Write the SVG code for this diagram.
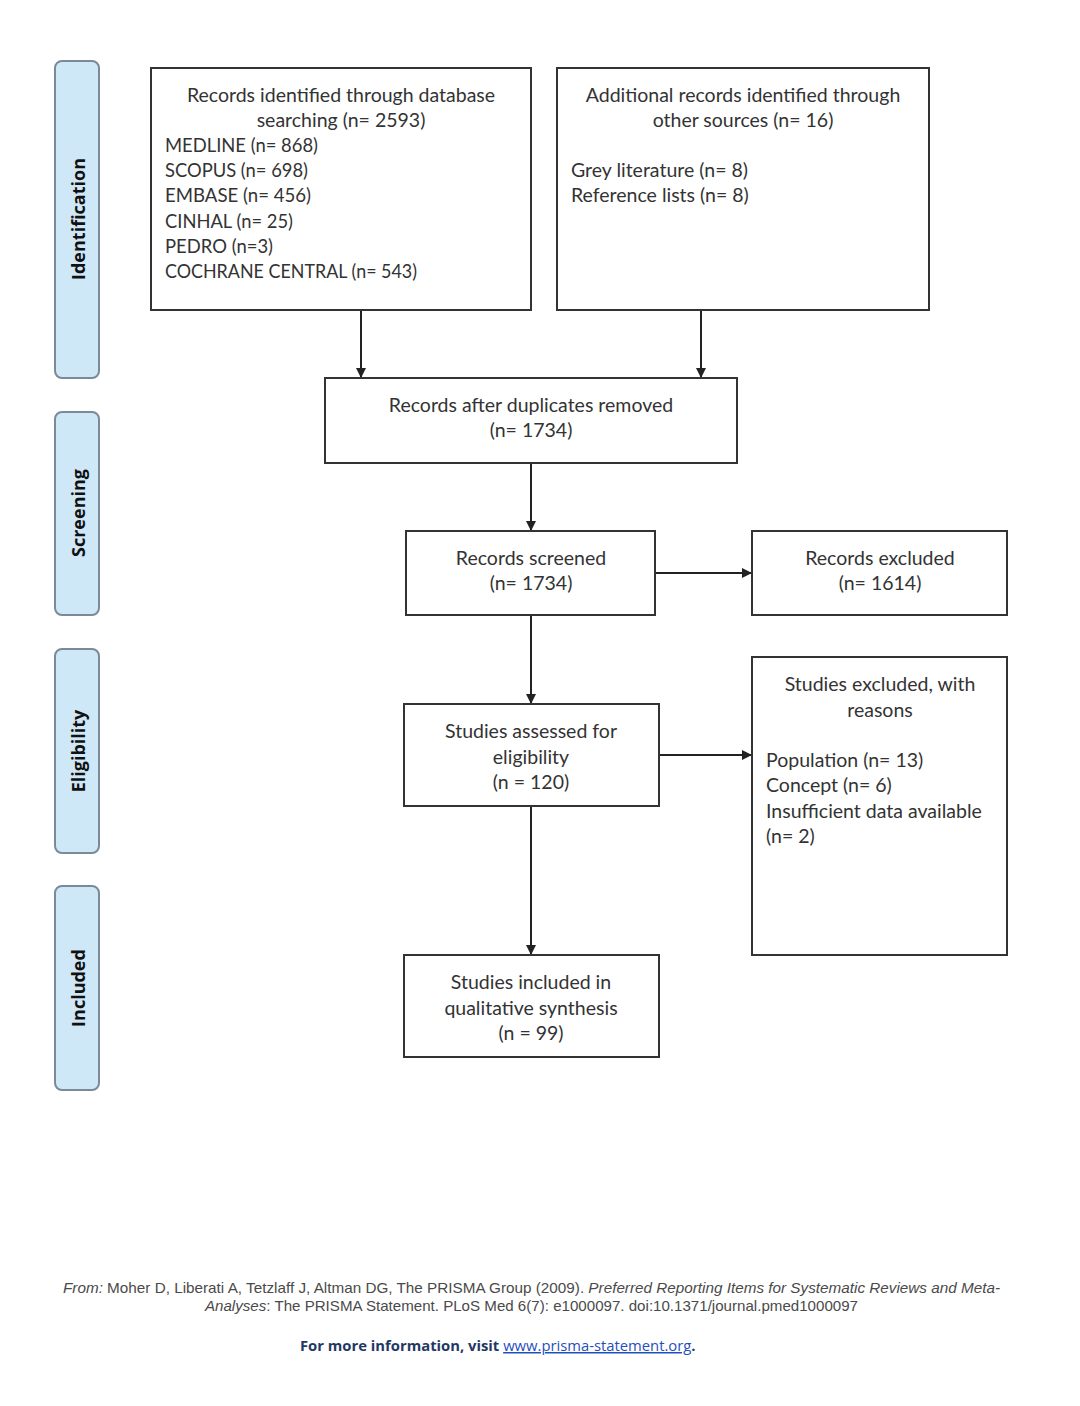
<svg xmlns="http://www.w3.org/2000/svg" width="1080" height="1406" viewBox="0 0 1080 1406">
<style>
.box{fill:#fff;stroke:#333;stroke-width:2}
.side{fill:#cfe8f8;stroke:#7b8a96;stroke-width:2}
.t{font-family:Lato,"Open Sans",sans-serif;font-size:19.5px;fill:#333}
.c{text-anchor:middle}
.sl{font-family:"Open Sans",Lato,sans-serif;font-size:18px;font-weight:bold;fill:#111;text-anchor:middle}
.ln{stroke:#222;stroke-width:2;fill:none}
.f{font-family:"Liberation Sans",Arial,sans-serif;font-size:15px;fill:#4a4a4a}
</style>
<defs>
<marker id="ah" markerWidth="10" markerHeight="10" refX="9" refY="5" orient="auto" markerUnits="userSpaceOnUse">
<path d="M0,0 L10,5 L0,10 z" fill="#222"/>
</marker>
</defs>
<rect width="1080" height="1406" fill="#fff"/>
<g id="side-identification"><rect class="side" x="55" y="61" width="44" height="317" rx="7"/><text class="sl" transform="translate(85,219) rotate(-90)">Identification</text></g>
<g id="side-screening"><rect class="side" x="55" y="412" width="44" height="203" rx="7"/><text class="sl" transform="translate(85,513) rotate(-90)">Screening</text></g>
<g id="side-eligibility"><rect class="side" x="55" y="649" width="44" height="204" rx="7"/><text class="sl" transform="translate(85,751) rotate(-90)">Eligibility</text></g>
<g id="side-included"><rect class="side" x="55" y="886" width="44" height="204" rx="7"/><text class="sl" transform="translate(85,988) rotate(-90)">Included</text></g>

<g id="connectors">
<line class="ln" x1="361" y1="310" x2="361" y2="377" marker-end="url(#ah)"/>
<line class="ln" x1="701" y1="310" x2="701" y2="377" marker-end="url(#ah)"/>
<line class="ln" x1="531" y1="463" x2="531" y2="530" marker-end="url(#ah)"/>
<line class="ln" x1="655" y1="573" x2="751" y2="573" marker-end="url(#ah)"/>
<line class="ln" x1="531" y1="615" x2="531" y2="703" marker-end="url(#ah)"/>
<line class="ln" x1="659" y1="755" x2="751" y2="755" marker-end="url(#ah)"/>
<line class="ln" x1="531" y1="806" x2="531" y2="954" marker-end="url(#ah)"/>
</g>

<g id="node-db">
<rect class="box" x="151" y="68" width="380" height="242"/>
<text class="t c" x="341" y="102">Records identified through database</text>
<text class="t c" x="341" y="127">searching (n= 2593)</text>
<text class="t" x="165" y="152" textLength="153" lengthAdjust="spacingAndGlyphs">MEDLINE (n= 868)</text>
<text class="t" x="165" y="177" textLength="143" lengthAdjust="spacingAndGlyphs">SCOPUS (n= 698)</text>
<text class="t" x="165" y="202" textLength="146" lengthAdjust="spacingAndGlyphs">EMBASE (n= 456)</text>
<text class="t" x="165" y="228" textLength="128" lengthAdjust="spacingAndGlyphs">CINHAL (n= 25)</text>
<text class="t" x="165" y="253" textLength="108" lengthAdjust="spacingAndGlyphs">PEDRO (n=3)</text>
<text class="t" x="165" y="278" textLength="252" lengthAdjust="spacingAndGlyphs">COCHRANE CENTRAL (n= 543)</text>
</g>
<g id="node-other">
<rect class="box" x="557" y="68" width="372" height="242"/>
<text class="t c" x="743" y="102">Additional records identified through</text>
<text class="t c" x="743" y="127">other sources (n= 16)</text>
<text class="t" x="571" y="177">Grey literature (n= 8)</text>
<text class="t" x="571" y="202">Reference lists (n= 8)</text>
</g>
<g id="node-dup">
<rect class="box" x="325" y="378" width="412" height="85"/>
<text class="t c" x="531" y="412">Records after duplicates removed</text>
<text class="t c" x="531" y="437">(n= 1734)</text>
</g>
<g id="node-screened">
<rect class="box" x="406" y="531" width="249" height="84"/>
<text class="t c" x="531" y="565">Records screened</text>
<text class="t c" x="531" y="590">(n= 1734)</text>
</g>
<g id="node-excluded">
<rect class="box" x="752" y="531" width="255" height="84"/>
<text class="t c" x="880" y="565">Records excluded</text>
<text class="t c" x="880" y="590">(n= 1614)</text>
</g>
<g id="node-eligibility">
<rect class="box" x="404" y="704" width="255" height="102"/>
<text class="t c" x="531" y="738">Studies assessed for</text>
<text class="t c" x="531" y="764">eligibility</text>
<text class="t c" x="531" y="789">(n = 120)</text>
</g>
<g id="node-reasons">
<rect class="box" x="752" y="657" width="255" height="298"/>
<text class="t c" x="880" y="691">Studies excluded, with</text>
<text class="t c" x="880" y="717">reasons</text>
<text class="t" x="766" y="767">Population (n= 13)</text>
<text class="t" x="766" y="792">Concept (n= 6)</text>
<text class="t" x="766" y="818">Insufficient data available</text>
<text class="t" x="766" y="843">(n= 2)</text>
</g>
<g id="node-included">
<rect class="box" x="404" y="955" width="255" height="102"/>
<text class="t c" x="531" y="989">Studies included in</text>
<text class="t c" x="531" y="1015">qualitative synthesis</text>
<text class="t c" x="531" y="1040">(n = 99)</text>
</g>

<g id="footer">
<text class="f" x="63" y="1293" textLength="937" lengthAdjust="spacingAndGlyphs"><tspan font-style="italic">From:</tspan>  Moher D, Liberati A, Tetzlaff J, Altman DG, The PRISMA Group (2009). <tspan font-style="italic">Preferred Reporting Items for Systematic Reviews and Meta-</tspan></text>
<text class="f" x="205" y="1311" textLength="653" lengthAdjust="spacingAndGlyphs"><tspan font-style="italic">Analyses</tspan>: The PRISMA Statement. PLoS Med 6(7): e1000097. doi:10.1371/journal.pmed1000097</text>
<text x="300" y="1351" style="font-family:'Open Sans',Lato,sans-serif;font-size:14.8px;font-weight:bold;fill:#1f3864">For more information, visit <tspan fill="#1f4fbf" text-decoration="underline" font-weight="normal">www.prisma-statement.org</tspan>.</text>
</g>
</svg>
